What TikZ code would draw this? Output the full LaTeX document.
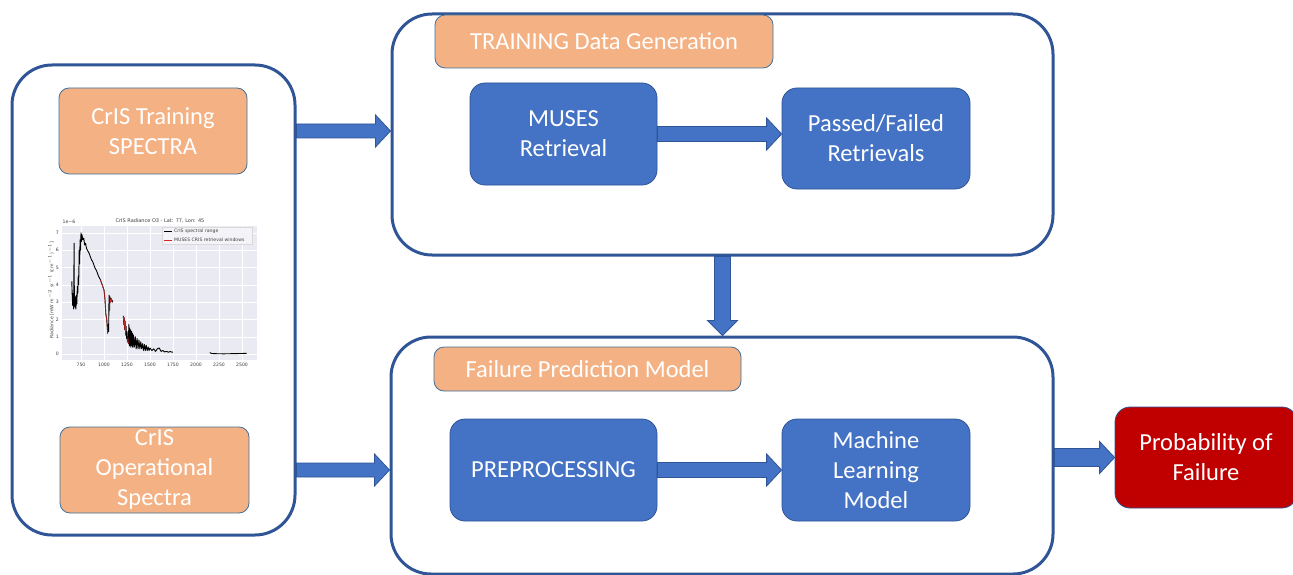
\documentclass[tikz,border=0pt]{standalone}
\usepackage{fontspec}
\setmainfont{Carlito}
\newfontfamily\plotfont{DejaVu Sans}
\usetikzlibrary{calc}
\definecolor{frameblue}{HTML}{2F5597}
\definecolor{boxblue}{HTML}{4472C4}
\definecolor{orangefill}{HTML}{F4B183}
\definecolor{orangeborder}{HTML}{41719C}
\definecolor{redfill}{HTML}{C00000}
\definecolor{panelgray}{HTML}{EAEAF2}
\definecolor{plotred}{HTML}{D62728}
\newcommand\harrow[5]{% start, end, half shaft, half head, head length
  \path[blockarrow] let \p1=(#1), \p2=(#2) in
    (\x1,{\y1+#3pt}) -- ({\x2-#5pt},{\y1+#3pt}) -- ({\x2-#5pt},{\y1+#4pt}) --
    (\x2,\y1) -- ({\x2-#5pt},{\y1-#4pt}) -- ({\x2-#5pt},{\y1-#3pt}) -- (\x1,{\y1-#3pt}) -- cycle;}
\newcommand\varrow[5]{% start, end (below), half shaft, half head, head length
  \path[blockarrow] let \p1=(#1), \p2=(#2) in
    ({\x1-#3pt},\y1) -- ({\x1-#3pt},{\y2+#5pt}) -- ({\x1-#4pt},{\y2+#5pt}) --
    (\x1,\y2) -- ({\x1+#4pt},{\y2+#5pt}) -- ({\x1+#3pt},{\y2+#5pt}) -- ({\x1+#3pt},\y1) -- cycle;}
\begin{document}
\begin{tikzpicture}[x=1pt,y=-1pt,
  container/.style={draw=frameblue,line width=3pt,fill=white,rounded corners=40pt,inner sep=0pt},
  bluebox/.style={draw=frameblue,line width=0.8pt,fill=boxblue,rounded corners=15pt,inner sep=0pt,
     text=white,align=center,font=\fontsize{24.5}{30}\selectfont},
  orangebox/.style={draw=orangeborder,line width=0.8pt,fill=orangefill,rounded corners=10pt,inner sep=0pt,
     text=white,align=center,font=\fontsize{24.5}{30}\selectfont},
  redbox/.style={draw=frameblue,line width=0.8pt,fill=redfill,rounded corners=15pt,inner sep=0pt,
     text=white,align=center,font=\fontsize{24.5}{30}\selectfont},
  blockarrow/.style={draw=frameblue,line width=0.8pt,fill=boxblue},
  ticklbl/.style={font=\plotfont\fontsize{4.6}{5}\selectfont,text=black!75,inner sep=0pt}
]
\useasboundingbox (0,0) rectangle (1293,575);

% containers
\node[container,minimum width=283pt,minimum height=470pt] (left) at (153.5,300) {};
\node[container,minimum width=661pt,minimum height=241pt] (top) at (722.5,134.5) {};
\node[container,minimum width=662pt,minimum height=237pt] (bottom) at (722,455.5) {};

% left container contents
\node[orangebox,minimum width=188pt,minimum height=86pt] (train) at (153,131) {CrIS Training\\SPECTRA};
\node[orangebox,minimum width=189pt,minimum height=86pt] (oper) at (154.5,470) {CrIS\\Operational\\Spectra};

% chart
\fill[panelgray] (62,226) rectangle (257,360);
\foreach \k in {0,...,7} \draw[white,line width=0.4pt] ({81+23*\k},226) -- ({81+23*\k},360);
\foreach \j in {0,...,7} \draw[white,line width=0.4pt] (62,{354-17.3*\j}) -- (257,{354-17.3*\j});
\foreach \k/\lab in {0/750,1/1000,2/1250,3/1500,4/1750,5/2000,6/2250,7/2500}
  \node[ticklbl] (xt\k) at ({81+23*\k},365) {\lab};
\foreach \j in {0,...,7}
  \node[ticklbl,anchor=east] (yt\j) at (59,{354-17.3*\j}) {\j};
\node[ticklbl] (expo) at (69,222) {1e\textminus6};
\node[ticklbl,font=\plotfont\fontsize{5}{6}\selectfont] (ptitle) at (160,221) {CrIS Radiance O3 - Lat: 77, Lon: 45};
\node[ticklbl,rotate=90] (ylab) at (51,290) {Radiance [mW m$^{-2}$ sr$^{-1}$ (cm$^{-1}$)$^{-1}$]};
\begin{scope}[xshift=81pt,yshift=-354pt,x=0.092pt,y=17.3pt,line join=round]
\draw[black,line width=0.9pt] plot coordinates {
(-100,4.2) (-95,3.3) (-90,2.8) (-85,3.5) (-80,2.6) (-75,6.4) (-72,3.0) (-65,2.7) (-60,3.3) (-55,2.6)
(-50,3.4) (-45,2.9) (-40,3.9) (-35,3.5) (-30,4.5) (-25,4.0) (-20,6.0) (-15,5.2) (-10,6.6) (-5,6.0)
(0,7.0) (5,6.5) (10,6.9) (20,6.6) (30,6.7) (40,6.3) (50,6.4) (60,6.1) (70,6.0) (90,5.8) (110,5.5)
(130,5.3) (150,5.0) (170,4.8) (190,4.5) (210,4.3) (230,4.0) (250,3.7) (260,3.2) (270,2.3) (280,2.0)
(290,1.2) (295,1.7) (300,1.3) (305,3.4) (310,2.5) (315,3.3) (320,3.0) (330,3.2) (340,3.0) (345,3.1)};
\draw[black,line width=0.9pt] plot coordinates {
(460,2.2) (465,1.7) (470,2.1) (475,1.4) (480,1.9) (485,1.1) (490,1.6) (495,0.9) (500,1.3) (505,0.7)
(510,1.0) (515,0.6) (520,1.7) (525,0.5) (530,1.5) (535,0.4) (540,1.4) (545,0.5) (550,1.3) (555,0.4)
(560,1.2) (565,0.4) (570,1.1) (580,0.4) (590,1.0) (600,0.3) (610,0.9) (620,0.3) (630,0.8) (640,0.3)
(650,0.7) (660,0.3) (670,0.6) (680,0.2) (690,0.55) (700,0.2) (710,0.5) (720,0.2) (730,0.4) (740,0.2)
(750,0.35) (770,0.2) (790,0.3) (810,0.15) (830,0.3) (850,0.35) (870,0.15) (890,0.2) (910,0.12)
(930,0.15) (950,0.1) (970,0.15) (990,0.1) (1000,0.12)};
\draw[black,line width=0.9pt] plot coordinates {
(1400,0.08) (1420,0.03) (1450,0.02) (1550,0.01) (1650,0.02) (1750,0.03) (1800,0.04)};
\draw[plotred,line width=0.5pt] plot coordinates {
(210,4.3) (230,4.0) (250,3.7) (260,3.2) (270,2.3) (280,2.0) (290,1.2)};
\draw[plotred,line width=0.5pt] plot coordinates {
(310,2.5) (315,3.3) (320,3.0) (330,3.2) (340,3.0)};
\draw[plotred,line width=0.5pt] plot coordinates {
(460,2.2) (465,1.7) (470,2.1) (475,1.4) (480,1.9) (485,1.1) (490,1.6)};
\draw[plotred,line width=0.5pt] plot coordinates {(505,0.7) (510,1.0) (515,0.6)};
\end{scope}
% legend
\node[draw=black!15,fill=panelgray!50,line width=0.3pt,minimum width=90pt,minimum height=17pt,inner sep=0pt] (legend) at (207.5,236) {};
\draw[black,line width=0.9pt] (164,231.5) -- (172,231.5);
\draw[plotred,line width=0.6pt] (164,240) -- (172,240);
\node[ticklbl,anchor=west] (leg1) at (174,231.5) {CrIS spectral range};
\node[ticklbl,anchor=west] (leg2) at (174,240) {MUSES CRIS retrieval windows};

% top container contents
\node[orangebox,minimum width=338pt,minimum height=53pt] (tdg) at (604,41.5) {TRAINING Data Generation};
\node[bluebox,minimum width=187pt,minimum height=102pt] (muses) at (563.5,134) {MUSES\\Retrieval};
\node[bluebox,minimum width=188pt,minimum height=101pt] (passed) at (876,138.5) {Passed/Failed\\Retrievals};

% bottom container contents
\node[orangebox,minimum width=307pt,minimum height=44pt] (fpm) at (587.5,369) {Failure Prediction Model};
\node[bluebox,minimum width=207pt,minimum height=102pt] (prep) at (553.5,470) {PREPROCESSING};
\node[bluebox,minimum width=188pt,minimum height=102pt] (ml) at (876,470) {Machine\\Learning\\Model};

% output
\node[redbox,minimum width=182pt,minimum height=101pt] (prob) at (1206,457.5) {Probability of\\Failure};

% arrows
\harrow{left.east |- train}{top.west |- train}{7}{16}{15}
\harrow{left.east |- oper}{bottom.west |- oper}{7}{16}{15}
\harrow{muses.east}{passed.west |- muses.east}{7.5}{16}{15}
\harrow{prep.east}{ml.west |- prep.east}{7.5}{16}{15}
\harrow{bottom.east |- prob}{prob.west}{9}{16}{15}
\varrow{top.south}{bottom.north}{8}{15}{15}
\end{tikzpicture}
\end{document}
